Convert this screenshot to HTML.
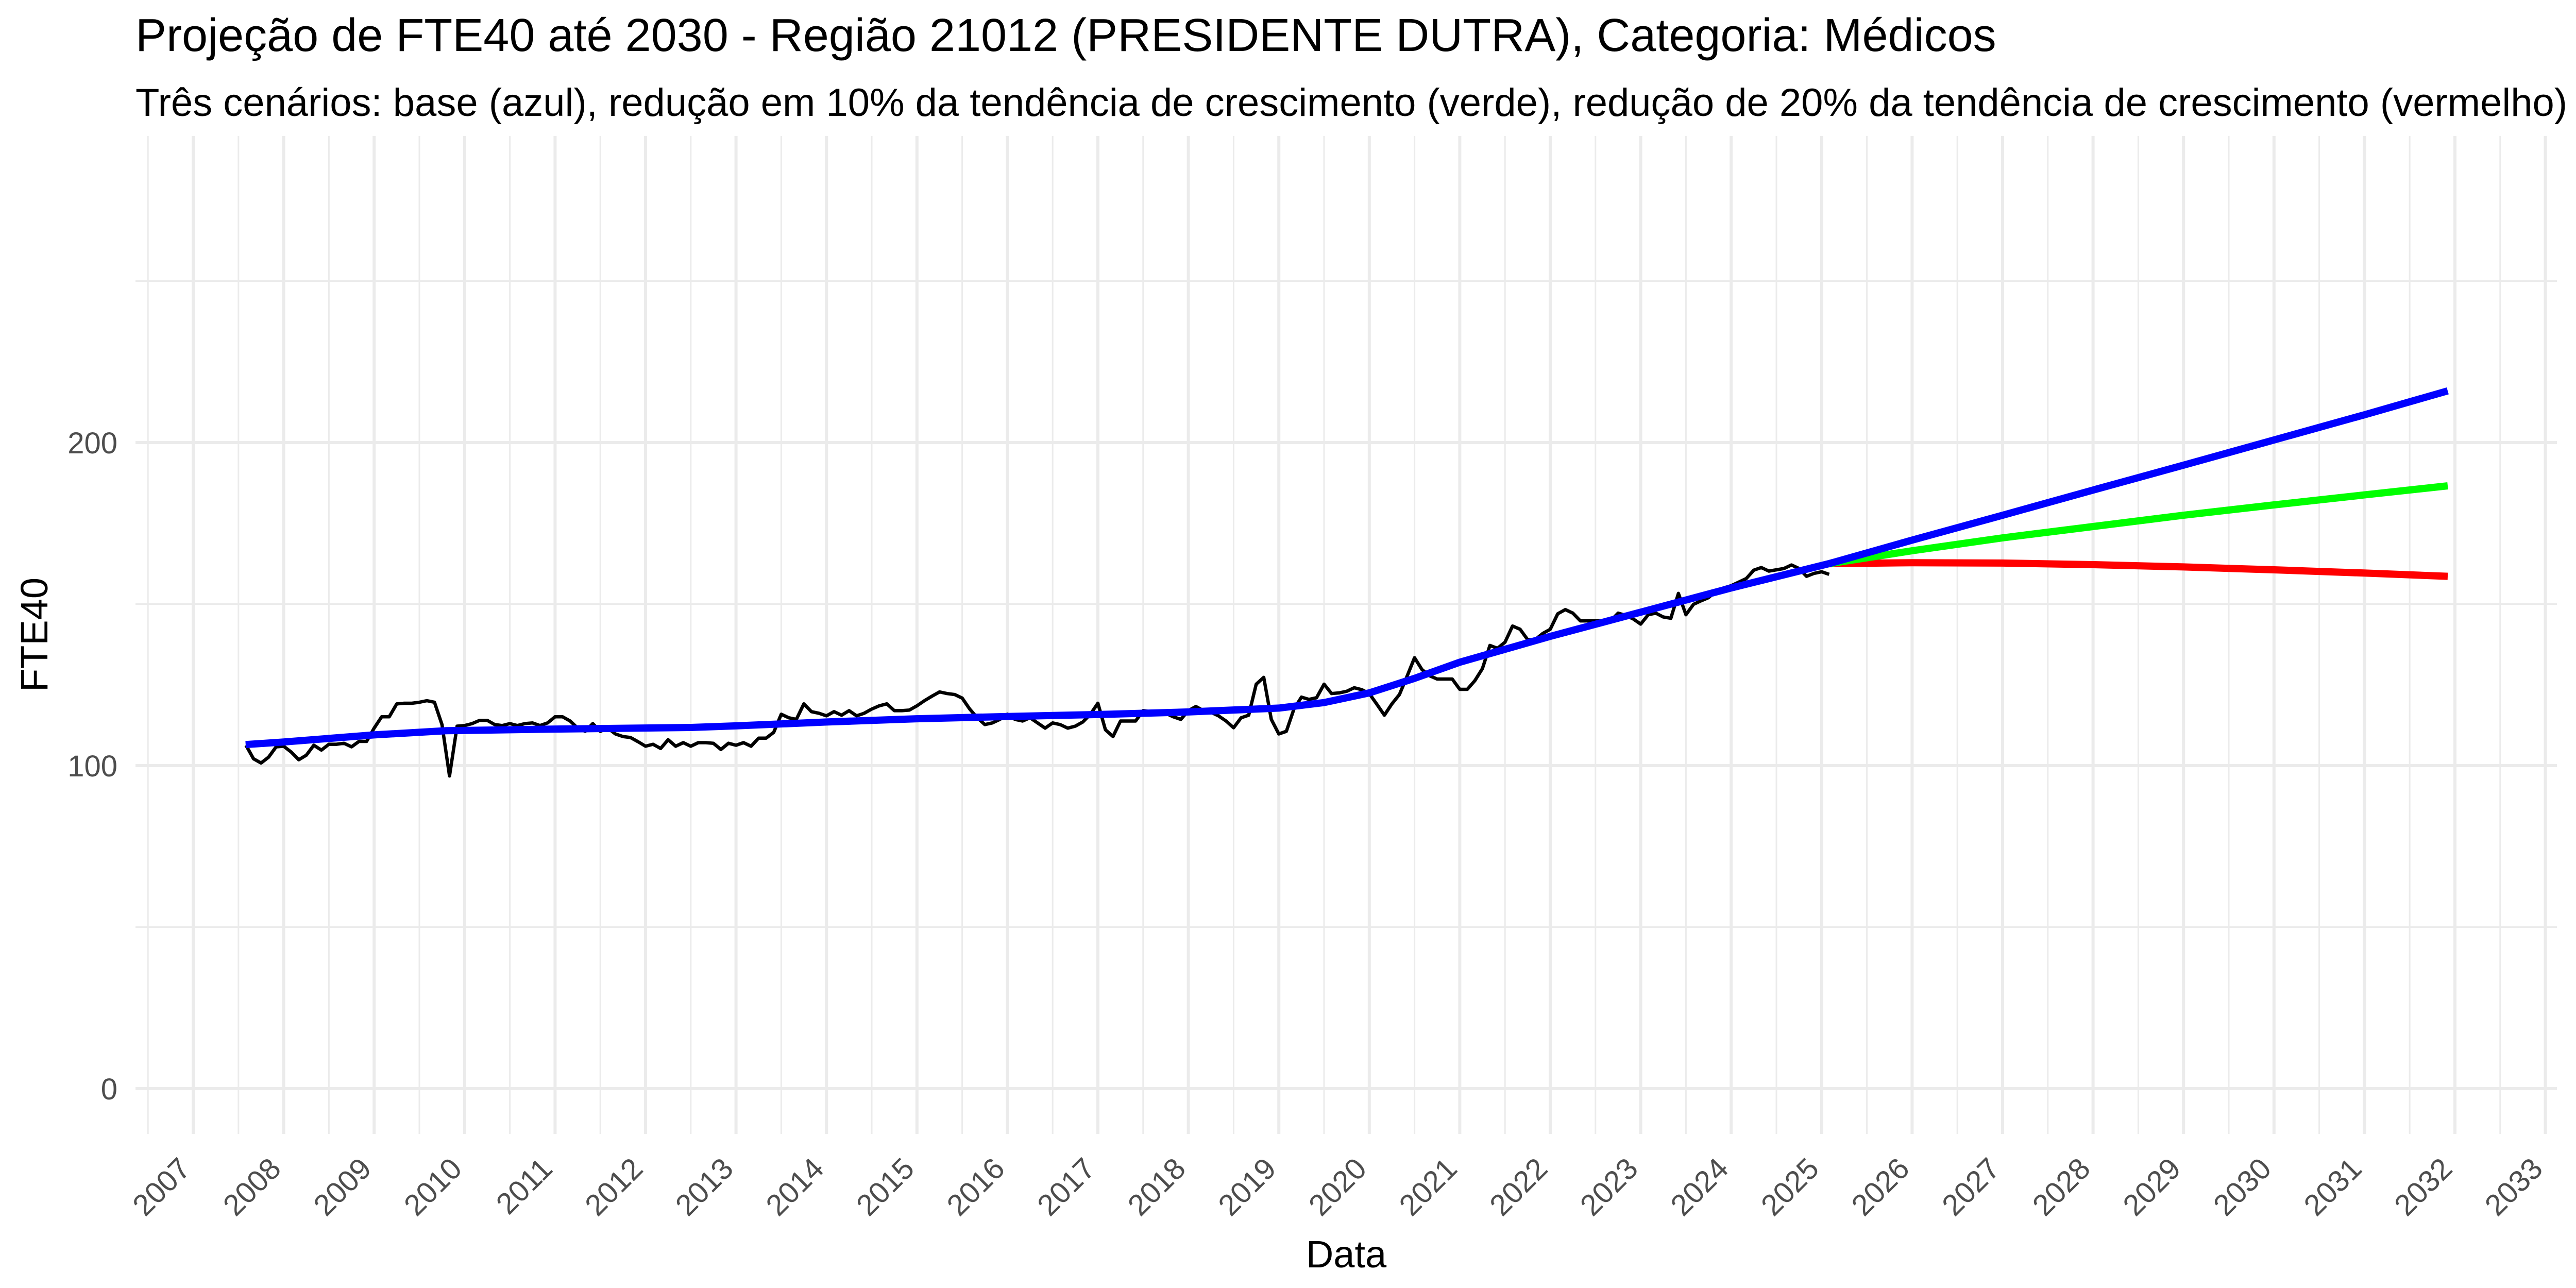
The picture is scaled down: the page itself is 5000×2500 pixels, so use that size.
<!DOCTYPE html>
<html><head><meta charset="utf-8"><style>
html,body{margin:0;padding:0;background:#fff;}
svg{display:block;font-family:"Liberation Sans",Arial,sans-serif;}
</style></head><body>
<svg id="chart" width="5000" height="2500" viewBox="0 0 5000 2500">
<rect x="0" y="0" width="5000" height="2500" fill="#fff"/>
<g id="grid"></g>
<g id="series"></g>
<g id="axes"></g>
<text x="263" y="99" font-size="90" fill="#000">Projeção de FTE40 até 2030 - Região 21012 (PRESIDENTE DUTRA), Categoria: Médicos</text>
<text x="263" y="225" font-size="76" fill="#000">Três cenários: base (azul), redução em 10% da tendência de crescimento (verde), redução de 20% da tendência de crescimento (vermelho)</text>
<text x="2613" y="2460" font-size="74" text-anchor="middle" fill="#000">Data</text>
<text transform="translate(92,1232) rotate(-90)" font-size="74" text-anchor="middle" fill="#000">FTE40</text>
</svg>
<script>
// ---- data ----
const obsStart = [2007, 8];
const obsValues = [
106.3,102.1,100.8,102.6,105.8,
106,104.2,101.8,103.2,106.3,104.8,106.6,106.6,106.9,105.8,107.5,107.5,
111.6,115.1,115.1,119.1,119.3,119.3,119.6,120.1,119.6,112.7,96.8,112.2,
112.4,113,114,114,112.7,112.4,113,112.4,113,113.2,112.4,113.2,
115.1,115.1,113.8,111.6,110.6,113,110.6,111.6,109.8,109,108.7,107.4,
106,106.6,105.3,108,106,107.1,106,107.1,107.1,106.9,105,106.9,
106.3,107.1,106,108.5,108.5,110.3,115.9,114.8,114.3,119.1,116.7,116.2,
115.4,116.7,115.6,117,115.4,116.2,117.5,118.5,119.1,117,117,117.2,
118.5,120.1,121.5,122.8,122.3,122,120.9,117.5,114.8,112.7,113.2,114.3,
115.9,114.3,113.8,114.8,113.2,111.6,113.2,112.7,111.6,112.2,113.5,115.9,
119.3,111.1,109,113.8,113.8,113.8,117,116.7,116.7,116.2,115.1,114.3,
117,118.3,117,116.5,115.4,113.8,111.7,114.8,115.6,125.2,127.3,114.3,
109.8,110.6,117.5,121.2,120.5,121,125.2,122.3,122.5,123,124.1,123.5,
122.3,119,115.6,119.1,122,127.6,133.4,129.7,127.8,126.8,126.8,126.8,
123.6,123.6,126.3,130,137.2,136.3,138.2,143.2,142.2,139,139,140.9,
142.2,147,148.3,147.2,144.8,144.8,144.8,144.8,144.8,147.2,146.5,145.4,
143.8,146.7,147.2,146,145.6,153.3,146.7,149.9,151,152,154.1,155,
155.7,156.8,157.9,160.5,161.3,160.2,160.6,161,162.1,161,158.6,159.5,
160,159.2
];
const trendDates  = [2007.58,2008,2009,2009.8,2011,2012.5,2013,2014,2015,2016,2017,2018,2019,2019.5,2020,2020.5,2021,2022,2023,2024,2025.08];
const trendValues = [106.5,107.3,109.5,110.8,111.3,111.8,112.3,113.5,114.5,115.2,115.8,116.6,117.8,119.5,122.5,127,132,140,147.5,155,162.5];
const projDates  = [2025.08,2026,2027,2028,2029,2030,2031,2031.92];
const projBase   = [162.5,169.8,177.5,185.3,193,200.8,208.6,216];
const projMinus10 = [162.5,166.5,170.5,174,177.5,180.7,183.8,186.6];
const projMinus20 = [162.5,162.8,162.7,162.2,161.5,160.6,159.6,158.6];
const xTickYears = [2007,2008,2009,2010,2011,2012,2013,2014,2015,2016,2017,2018,2019,2020,2021,2022,2023,2024,2025,2026,2027,2028,2029,2030,2031,2032,2033];
const yTicks = [0,100,200];
const yMinor = [50,150,250];

// ---- scales ----
const PX0 = 263, PX1 = 4963, PY0 = 264, PY1 = 2201;
function xs(t){ return 375 + (t - 2007) * 175.6; }
function ys(v){ return 2113 - v * 6.27; }
const NS = "http://www.w3.org/2000/svg";
function mk(tag, attrs, parent){
  const e = document.createElementNS(NS, tag);
  for (const k in attrs) e.setAttribute(k, attrs[k]);
  parent.appendChild(e);
  return e;
}
const grid = document.getElementById('grid');
const series = document.getElementById('series');
const axes = document.getElementById('axes');

yMinor.forEach(v => {
  const l = mk('line', {x1:PX0, x2:PX1, y1:ys(v), y2:ys(v), stroke:'#EBEBEB', 'stroke-width':3}, grid);
  
  
});
xTickYears.forEach(yr => {
  const t = yr - 0.5;
  if (xs(t) > PX0 && xs(t) < PX1) {
    const l = mk('line', {x1:xs(t), x2:xs(t), y1:PY0, y2:PY1, stroke:'#EBEBEB', 'stroke-width':3}, grid);
    
    
  }
});
yTicks.forEach(v => {
  const l = mk('line', {x1:PX0, x2:PX1, y1:ys(v), y2:ys(v), stroke:'#EBEBEB', 'stroke-width':6}, grid);
  
  
  const tx = mk('text', {x:228, y:ys(v)+21, 'font-size':58, fill:'#4D4D4D', 'text-anchor':'end'}, axes);
  tx.textContent = String(v);
  
  
});
xTickYears.forEach(yr => {
  const x = xs(yr);
  const l = mk('line', {x1:x, x2:x, y1:PY0, y2:PY1, stroke:'#EBEBEB', 'stroke-width':6}, grid);
  
  
  const tx = mk('text', {transform:'translate(' + (x - 2) + ',2272) rotate(-45)', 'font-size':58, fill:'#4D4D4D', 'text-anchor':'end'}, axes);
  tx.textContent = String(yr);
  
  
});

function pathFrom(ts, vs){
  return ts.map((t,i) => (i ? 'L' : 'M') + xs(t).toFixed(1) + ',' + ys(vs[i]).toFixed(1)).join(' ');
}
const obsT = obsValues.map((v,i) => obsStart[0] + (obsStart[1] - 1 + i) / 12);
const obs = mk('path', {d:pathFrom(obsT, obsValues), fill:'none', stroke:'#000', 'stroke-width':6.5, 'stroke-linejoin':'round'}, series);


const red = mk('path', {d:pathFrom(projDates, projMinus20), fill:'none', stroke:'#FF0000', 'stroke-width':14}, series);


const green = mk('path', {d:pathFrom(projDates, projMinus10), fill:'none', stroke:'#00FF00', 'stroke-width':14}, series);


const blueP = mk('path', {d:pathFrom(projDates, projBase), fill:'none', stroke:'#0000FF', 'stroke-width':14}, series);


const trend = mk('path', {d:pathFrom(trendDates, trendValues), fill:'none', stroke:'#0000FF', 'stroke-width':14, 'stroke-linejoin':'round'}, series);


</script>
</body></html>
